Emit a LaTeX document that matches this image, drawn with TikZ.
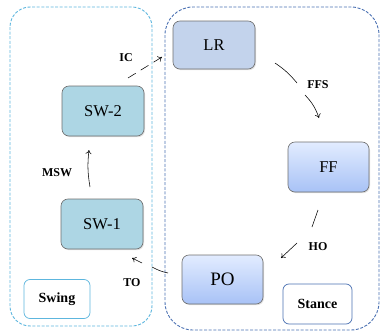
\documentclass[tikz,border=0pt]{standalone}
\usepackage{fontspec}
\setmainfont{Liberation Serif}
\usetikzlibrary{arrows.meta,shadows}
\definecolor{swfill}{HTML}{ADD6E4}
\definecolor{lrfill}{HTML}{C3D3EC}
\definecolor{fftop}{HTML}{E2ECFF}
\definecolor{ffbot}{HTML}{A8C2F6}
\definecolor{boxborder}{HTML}{6E6E6E}
\definecolor{swingline}{HTML}{5DB6DE}
\definecolor{stanceline}{HTML}{4A70B2}
\begin{document}
\begin{tikzpicture}[x=1pt,y=-1pt,
  phase/.style={draw=boxborder, line width=0.6pt, rounded corners=7pt, inner sep=0pt,
    font=\fontsize{16.5}{19}\selectfont,
    drop shadow={opacity=0.25, shadow xshift=1pt, shadow yshift=-1.2pt}},
  swbox/.style={phase, fill=swfill, minimum width=82pt, minimum height=50pt},
  lrbox/.style={phase, fill=lrfill, minimum width=82pt, minimum height=48pt},
  ffbox/.style={phase, top color=fftop, bottom color=ffbot, minimum width=81pt, minimum height=50pt},
  tag/.style={font=\bfseries\fontsize{12}{14}\selectfont, inner sep=1pt},
  grouptag/.style={font=\bfseries\fontsize{14}{16}\selectfont, rounded corners=6pt, line width=0.7pt, inner sep=0pt},
  conn/.style={line width=0.55pt, -{To[length=4pt,width=6pt]}},
  plain/.style={line width=0.55pt}
]
\useasboundingbox (0,0) rectangle (381,332);
% containers
\draw[swingline, line width=0.9pt, dash pattern=on 3pt off 1.6pt, rounded corners=20pt]
  (10,7) rectangle (152,326);
\draw[stanceline, line width=0.9pt, dash pattern=on 3pt off 1.6pt, rounded corners=28pt]
  (165,7) rectangle (379,330);
% phase boxes
\node[lrbox] (LR) at (214,45) {LR};
\node[ffbox] (FF) at (328.5,167) {FF};
\node[ffbox, minimum height=49pt, font=\fontsize{19}{22}\selectfont] (PO) at (222.5,279.5) {PO};
\node[swbox] (SW2) at (103,111) {SW-2};
\node[swbox] (SW1) at (102,224) {SW-1};
% group tags
\node[grouptag, draw=swingline, fill=white, minimum width=66pt, minimum height=39pt] (swing) at (57,299) {Swing};
\node[grouptag, draw=stanceline, fill=white, minimum width=69pt, minimum height=40pt] (stance) at (317.5,304) {Stance};
% transition labels
\node[tag] (ic) at (126,58) {IC};
\node[tag] (ffs) at (318,85) {FFS};
\node[tag] (ho) at (318,247) {HO};
\node[tag] (to) at (132,283) {TO};
\node[tag] (msw) at (57,173) {MSW};
% connector end points
\coordinate (icA) at (128,78);
\coordinate (icB) at (162,57);
\coordinate (ffsA) at (275,63);
\coordinate (ffsB) at (297,83);
\coordinate (ffsC) at (305,95);
\coordinate (ffsD) at (319,118);
\coordinate (hoA) at (318,210);
\coordinate (hoB) at (312,227);
\coordinate (hoC) at (297,243);
\coordinate (hoD) at (281,258);
\coordinate (toA) at (168,273);
\coordinate (toB) at (152,267);
\coordinate (toC) at (142,263);
\coordinate (toD) at (132,258);
\coordinate (mswA) at (90,187);
\coordinate (mswB) at (89,150);
% connectors
\draw[conn, dash pattern=on 9pt off 6pt] (icA) -- (icB);
\draw[plain] (ffsA) to[bend left=8] (ffsB);
\draw[conn] (ffsC) to[bend left=12] (ffsD);
\draw[plain] (hoA) -- (hoB);
\draw[conn] (hoC) -- (hoD);
\draw[plain] (toA) to[bend left=8] (toB);
\draw[conn] (toC) -- (toD);
\draw[conn] (mswA) to[bend left=8] (mswB);
\end{tikzpicture}
\end{document}
